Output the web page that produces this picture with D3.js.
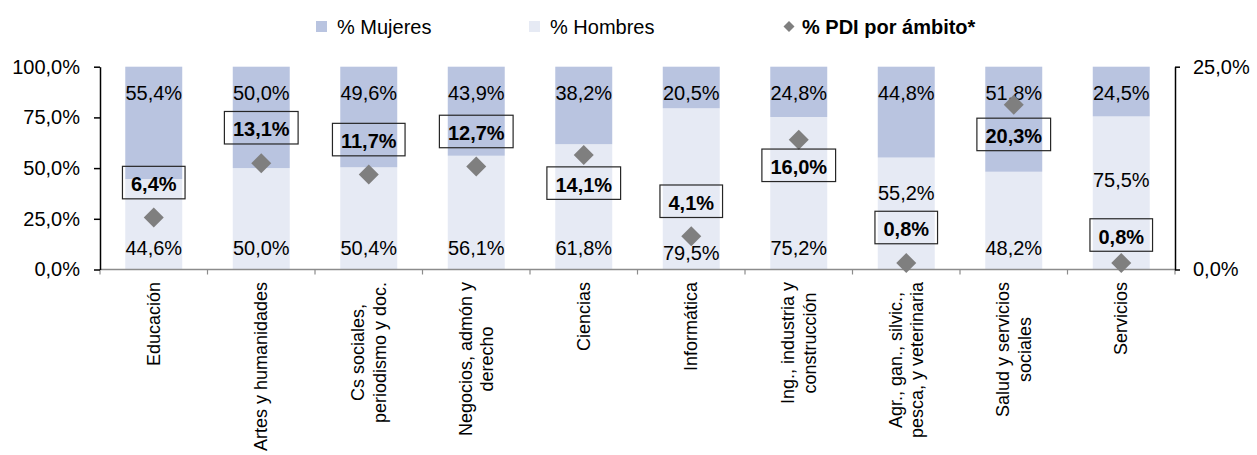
<!DOCTYPE html>
<html>
<head>
<meta charset="utf-8">
<script src="https://cdn.jsdelivr.net/npm/d3@7/dist/d3.min.js"></script>
<style>
  body { margin: 0; background: #fff; }
  svg { display: block; font-family: "Liberation Sans", Arial, sans-serif; }
</style>
</head>
<body>
<svg id="chart" width="1257" height="455"></svg>
<script>
// ---- data ----
const categories = [
  "Educación",
  "Artes y humanidades",
  "Cs sociales,\nperiodismo y doc.",
  "Negocios, admón y\nderecho",
  "Ciencias",
  "Informática",
  "Ing., industria y\nconstrucción",
  "Agr., gan., silvic.,\npesca, y veterinaria",
  "Salud y servicios\nsociales",
  "Servicios"
];
const mujeres = [55.4, 50.0, 49.6, 43.9, 38.2, 20.5, 24.8, 44.8, 51.8, 24.5];
const hombres = [44.6, 50.0, 50.4, 56.1, 61.8, 79.5, 75.2, 55.2, 48.2, 75.5];
const pdi = [6.4, 13.1, 11.7, 12.7, 14.1, 4.1, 16.0, 0.8, 20.3, 0.8];
const leftTicks = [0, 25, 50, 75, 100];
const rightTicks = [0, 25];
const seriesNames = ["% Mujeres", "% Hombres", "% PDI por ámbito*"];

// ---- layout (label placement, as in the original) ----
const mujLabelAt = [87, 87, 87, 87, 87, 87, 87, 87, 87, 87];
const homLabelAt = [10.6, 10.6, 10.6, 10.6, 10.6, 8.1, 10.6, 37.7, 10.6, 44.1];
const pdiLabelDy = [-35, -35.5, -35, -35, 28, -35, 25.6, -35.5, 29.6, -28];

const colMuj = "#b9c4e0", colHom = "#e6eaf4", colPdi = "#7f7f7f";
const FS = 20, CFS = 18;

const svg = d3.select("#chart");
const loc = d3.formatLocale({decimal: ",", thousands: ".", grouping: [3], currency: ["", "€"]});
const fmt = v => loc.format(".1f")(v) + "%";

const x = d3.scaleBand().domain(categories).range([100, 1175]).paddingInner(0.47).paddingOuter(0.235);
const y = d3.scaleLinear().domain([0, 100]).range([269.5, 66.7]);
const y2 = d3.scaleLinear().domain([0, 25]).range([269.5, 66.7]);

const rows = categories.map((c, i) => ({c, i, m: mujeres[i], h: hombres[i], p: pdi[i]}));

// bars
const g = svg.append("g");
g.selectAll(".hom").data(rows).join("rect")
  .attr("x", d => x(d.c)).attr("width", x.bandwidth())
  .attr("y", d => y(d.h)).attr("height", d => y(0) - y(d.h))
  .attr("fill", colHom);
g.selectAll(".muj").data(rows).join("rect")
  .attr("x", d => x(d.c)).attr("width", x.bandwidth())
  .attr("y", d => y(d.h + d.m)).attr("height", d => y(d.h) - y(d.h + d.m))
  .attr("fill", colMuj);

// value labels
g.selectAll(".mlab").data(rows).join("text")
  .attr("x", d => x(d.c) + x.bandwidth() / 2).attr("y", d => y(mujLabelAt[d.i]))
  .attr("text-anchor", "middle").attr("dominant-baseline", "central")
  .attr("font-size", FS).attr("fill", "#000").text(d => fmt(d.m));
g.selectAll(".hlab").data(rows).join("text")
  .attr("x", d => x(d.c) + x.bandwidth() / 2).attr("y", d => y(homLabelAt[d.i]))
  .attr("text-anchor", "middle").attr("dominant-baseline", "central")
  .attr("font-size", FS).attr("fill", "#000").text(d => fmt(d.h));

// x axis line with boundary ticks
const gap = (x.step() - x.bandwidth()) / 2;
const bounds = categories.map(c => x(c) - gap).concat([x(categories[categories.length - 1]) + x.bandwidth() + gap]);
svg.append("line").attr("x1", 100).attr("x2", 1175).attr("y1", y(0)).attr("y2", y(0))
  .attr("stroke", "#8c8c8c").attr("stroke-width", 1.5);
svg.selectAll(".xt").data(bounds).join("line")
  .attr("x1", d => d).attr("x2", d => d).attr("y1", y(0)).attr("y2", y(0) + 5)
  .attr("stroke", "#8c8c8c").attr("stroke-width", 1.2);

// left axis
const ax = svg.append("g").attr("transform", "translate(100,0)")
  .call(d3.axisLeft(y).tickValues(leftTicks).tickSize(6).tickSizeOuter(0).tickPadding(14).tickFormat(fmt));
ax.select(".domain").attr("stroke", "#000").attr("stroke-width", 1.5);
ax.selectAll(".tick line").attr("stroke", "#000").attr("stroke-width", 1.5);
ax.selectAll("text").attr("font-size", FS).attr("fill", "#000").attr("font-family", "Liberation Sans, Arial, sans-serif");

// right axis
const ax2 = svg.append("g").attr("transform", "translate(1175,0)")
  .call(d3.axisRight(y2).tickValues(rightTicks).tickSize(5).tickSizeOuter(0).tickPadding(13).tickFormat(fmt));
ax2.select(".domain").attr("stroke", "#000").attr("stroke-width", 1.5);
ax2.selectAll(".tick line").attr("stroke", "#000").attr("stroke-width", 1.5);
ax2.selectAll("text").attr("font-size", FS).attr("fill", "#000").attr("font-family", "Liberation Sans, Arial, sans-serif");

// diamonds
const diamond = r => `M0,${-r}L${r},0L0,${r}L${-r},0Z`;
svg.selectAll(".pdi").data(rows).join("path")
  .attr("transform", d => `translate(${x(d.c) + x.bandwidth() / 2},${y2(d.p)})`)
  .attr("d", diamond(10)).attr("fill", colPdi);

// PDI labels in boxes
const pl = svg.selectAll(".pl").data(rows).join("g")
  .attr("transform", d => `translate(${x(d.c) + x.bandwidth() / 2},${y2(d.p) + pdiLabelDy[d.i]})`);
pl.append("text").attr("text-anchor", "middle").attr("dominant-baseline", "central")
  .attr("y", 1.5).attr("font-size", FS).attr("font-weight", "bold").attr("fill", "#000")
  .text(d => fmt(d.p));
pl.each(function() {
  const t = d3.select(this).select("text");
  const w = t.node().getComputedTextLength();
  d3.select(this).insert("rect", "text")
    .attr("x", -w / 2 - 8.5).attr("y", -16.25).attr("width", w + 17).attr("height", 32.5)
    .attr("fill", "none").attr("stroke", "#262626").attr("stroke-width", 1.2);
});

// category labels (rotated, multi-line, centred, ending near axis)
const lh = 21.5;
const cl = svg.selectAll(".cl").data(rows).join("text")
  .attr("transform", d => `translate(${x(d.c) + x.bandwidth() / 2},282) rotate(-90)`)
  .attr("font-size", CFS).attr("fill", "#000").attr("text-anchor", "middle");
cl.each(function(d) {
  const lines = d.c.split("\n");
  const t = d3.select(this);
  const n = lines.length;
  const spans = lines.map((s, k) => t.append("tspan").attr("x", 0)
    .attr("y", (k - (n - 1) / 2) * lh).attr("dominant-baseline", "central").text(s));
  const maxW = d3.max(spans, s => s.node().getComputedTextLength());
  spans.forEach(s => s.attr("x", -maxW / 2));
});

// legend
const lg = svg.append("g");
lg.append("rect").attr("x", 316).attr("y", 21).attr("width", 11).attr("height", 11).attr("fill", colMuj);
lg.append("text").attr("x", 337).attr("y", 26.5).attr("dominant-baseline", "central").attr("font-size", FS).text(seriesNames[0]);
lg.append("rect").attr("x", 529).attr("y", 21).attr("width", 11).attr("height", 11).attr("fill", colHom);
lg.append("text").attr("x", 550).attr("y", 26.5).attr("dominant-baseline", "central").attr("font-size", FS).text(seriesNames[1]);
lg.append("path").attr("transform", "translate(789,26.5)").attr("d", diamond(5.5)).attr("fill", colPdi);
lg.append("text").attr("x", 802).attr("y", 26.5).attr("dominant-baseline", "central").attr("font-size", FS)
  .attr("font-weight", "bold").text(seriesNames[2]);
</script>
</body>
</html>
